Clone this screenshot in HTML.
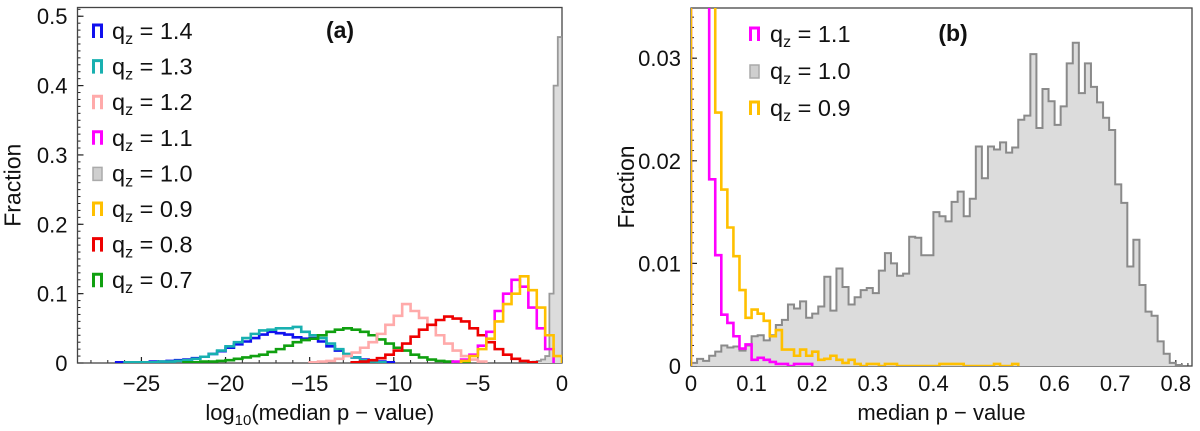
<!DOCTYPE html>
<html><head><meta charset="utf-8"><style>
html,body{margin:0;padding:0;background:#fff;width:1200px;height:431px;overflow:hidden}
svg text{font-family:"Liberation Sans","DejaVu Sans",sans-serif;fill:#111}
</style></head><body>
<svg id="chart" width="1200" height="431" viewBox="0 0 1200 431" xmlns="http://www.w3.org/2000/svg"></svg>
<script>
// ---- Panel (a) data: log10(median p-value) histograms ----
const aBin = 0.5;
const aBlueStart = -26.5;
const aBlue = [0.001,0.001,0.001,0.001,0.002,0.002,0.003,0.004,0.005,0.007,0.009,0.013,0.017,0.022,0.027,0.031,0.036,0.041,0.045,0.043,0.041,0.037,0.035,0.036,0.031,0.024,0.018,0.012,0.008,0.005,0.003,0.002,0.001];
const aCyanStart = -26;
const aCyan = [0.001,0.001,0.001,0.001,0.002,0.002,0.003,0.004,0.006,0.009,0.013,0.018,0.024,0.03,0.036,0.042,0.047,0.048,0.05,0.05,0.052,0.045,0.04,0.036,0.028,0.02,0.013,0.008,0.004,0.002,0.001];
const aGreenStart = -22.5;
const aGreen = [0.001,0.001,0.002,0.002,0.003,0.004,0.006,0.008,0.01,0.012,0.016,0.02,0.025,0.03,0.033,0.035,0.04,0.045,0.048,0.05,0.048,0.045,0.04,0.034,0.028,0.022,0.018,0.012,0.008,0.005,0.003,0.002,0.001,0.001];
const aPinkStart = -15;
const aPink = [0.001,0.002,0.003,0.006,0.01,0.015,0.022,0.03,0.042,0.055,0.068,0.085,0.075,0.065,0.055,0.04,0.028,0.018,0.01,0.005,0.002];
const aRedStart = -12.5;
const aRed = [0.001,0.002,0.004,0.007,0.012,0.018,0.028,0.038,0.048,0.055,0.062,0.067,0.064,0.06,0.05,0.04,0.03,0.02,0.012,0.006,0.003,0.001];
const aMagStart = -6.5;
const aMag = [0.002,0.005,0.012,0.025,0.045,0.075,0.1,0.12,0.11,0.08,0.05,0.02];
const aYelStart = -6;
const aYel = [0.003,0.01,0.02,0.035,0.06,0.085,0.1,0.125,0.105,0.08,0.04,0.01];
const aGrayBin = 0.25;
const aGrayStart = -2;
const aGray = [0.001,0.002,0.003,0.005,0.01,0.1,0.4,0.47];
const aXTicks = [-25,-20,-15,-10,-5,0];
const aXTickLabels = ["\u221225","\u221220","\u221215","\u221210","\u22125","0"];
const aYTicks = [0,0.1,0.2,0.3,0.4,0.5];
const aYTickLabels = ["0","0.1","0.2","0.3","0.4","0.5"];
const aLegend = ["1.4","1.3","1.2","1.1","1.0","0.9","0.8","0.7"];

// ---- Panel (b) data: median p-value histograms ----
const bBin = 0.01;
const bGray = [0.0003,0.0007,0.0005,0.001,0.0014,0.002,0.0018,0.0019,0.0015,0.002,0.0029,0.003,0.0025,0.003,0.004,0.0045,0.006,0.0056,0.0063,0.0047,0.0051,0.0058,0.0087,0.0054,0.0095,0.0077,0.006,0.0067,0.0074,0.0076,0.0071,0.0093,0.011,0.01,0.0088,0.009,0.0126,0.0125,0.0108,0.0108,0.015,0.0146,0.0141,0.016,0.017,0.0146,0.0163,0.0214,0.0183,0.0214,0.0211,0.0218,0.0208,0.0213,0.024,0.0244,0.0304,0.0232,0.027,0.0258,0.0235,0.0253,0.0295,0.0315,0.0266,0.0295,0.0272,0.0257,0.0242,0.023,0.0177,0.0159,0.0097,0.0123,0.0079,0.0053,0.0049,0.0024,0.0012,0.0003,0.0001];
const bMag = [0.06,0.05,0.04,0.0182,0.0108,0.005,0.0042,0.0029,0.0017,0.0021,0.0006,0.0008,0.0006,0.0004,0.0002,0.0002,0,0.0002,0.0002,0.0002];
const bYel = [0.06,0.05,0.045,0.04,0.0247,0.0172,0.0135,0.0107,0.0074,0.0047,0.0055,0.0051,0.0044,0.0029,0.0035,0.0016,0.0016,0.001,0.0016,0.001,0.0014,0.0006,0.0007,0.001,0.0006,0.0003,0.0006,0.0002,0,0.0002,0.0002,0,0.0002,0.0002,0,0,0,0,0,0,0,0.0002,0.0002,0.0002,0.0002,0,0,0,0,0,0.0002,0,0,0.0002];
const bXTicks = [0,0.1,0.2,0.3,0.4,0.5,0.6,0.7,0.8];
const bXTickLabels = ["0","0.1","0.2","0.3","0.4","0.5","0.6","0.7","0.8"];
const bYTicks = [0,0.01,0.02,0.03];
const bYTickLabels = ["0","0.01","0.02","0.03"];
const bLegend = ["1.1","1.0","0.9"];

const NS = "http://www.w3.org/2000/svg";
const svg = document.getElementById('chart');
function mk(tag, attrs, parent){const e=document.createElementNS(NS,tag);for(const k in attrs)e.setAttribute(k,attrs[k]);(parent||svg).appendChild(e);return e;}

const A = {x0:77.5, x1:562, y0:363, y1:7.5, xmin:-28.8, xmax:0, ymin:0, ymax:0.5126};
const B = {x0:691, x1:1192, y0:366, y1:8, xmin:0, xmax:(1192-691)/606, ymin:0, ymax:(366-8)/10260};
function sx(P,v){return P.x0+(v-P.xmin)/(P.xmax-P.xmin)*(P.x1-P.x0);}
function sy(P,v){return P.y0-(v-P.ymin)/(P.ymax-P.ymin)*(P.y0-P.y1);}

function stepPath(P,start,bin,vals){
  let d="M"+sx(P,start).toFixed(2)+","+sy(P,0).toFixed(2);
  for(let i=0;i<vals.length;i++){
    const xa=sx(P,start+i*bin), xb=sx(P,start+(i+1)*bin), y=sy(P,vals[i]);
    d+=" L"+xa.toFixed(2)+","+y.toFixed(2)+" L"+xb.toFixed(2)+","+y.toFixed(2);
  }
  d+=" L"+sx(P,start+vals.length*bin).toFixed(2)+","+sy(P,0).toFixed(2);
  return d;
}

function clip(id,P){
  const defs=mk('defs',{});
  const cp=mk('clipPath',{id:id},defs);
  mk('rect',{x:P.x0,y:P.y1,width:P.x1-P.x0,height:P.y0-P.y1},cp);
}
clip('clipA',A); clip('clipB',B);

function axes(P,name,xt,xtl,yt,ytl,xminor,yminor){
  const g=mk('g',{});
  
  
  for(const v of yminor){const y=sy(P,v);mk('line',{x1:P.x0,x2:P.x0+3,y1:y,y2:y,stroke:'#222','stroke-width':1},g);}
  for(const v of xminor){const x=sx(P,v);mk('line',{x1:x,x2:x,y1:P.y0,y2:P.y0-3,stroke:'#222','stroke-width':1},g);}
  xt.forEach((v,i)=>{const x=sx(P,v);
    mk('line',{x1:x,x2:x,y1:P.y0,y2:P.y0-6,stroke:'#222','stroke-width':1.2},g);
    const t=mk('text',{x:x,y:391,'font-size':22,'text-anchor':'middle'},g);
    
    
    t.textContent=xtl[i];});
  yt.forEach((v,i)=>{const y=sy(P,v);
    mk('line',{x1:P.x0,x2:P.x0+6,y1:y,y2:y,stroke:'#222','stroke-width':1.2},g);
    const t=mk('text',{x:P.x0-10,y:y+8,'font-size':22,'text-anchor':'end'},g);
    
    
    t.textContent=ytl[i];});
  const f=mk('rect',{x:P.x0,y:P.y1,width:P.x1-P.x0,height:P.y0-P.y1,fill:'none',stroke:'#444','stroke-width':1.3},g);
  
  
  const yt2=mk('text',{x:0,y:0,'font-size':23,'text-anchor':'middle',transform:'translate('+(P.x0-57)+','+((P.y0+P.y1)/2)+') rotate(-90)'},g);
  
  
  yt2.textContent='Fraction';
  return g;
}

// ----- Panel A -----
const aYMinor=[];for(let i=0;i<=51;i++)aYMinor.push(i*0.01);
const aXMinor=[];for(let i=-28;i<=0;i++)aXMinor.push(i);
axes(A,'panel-a',aXTicks,aXTickLabels,aYTicks,aYTickLabels,aXMinor,aYMinor);
const ta=mk('text',{x:(A.x0+A.x1)/2,y:420,'font-size':22,'text-anchor':'middle'});


ta.innerHTML='log<tspan font-size="15" dy="5">10</tspan><tspan dy="-5">(median  p \u2212 value)</tspan>';

const gA=mk('g',{'clip-path':'url(#clipA)'});
const grayA=mk('path',{d:stepPath(A,aGrayStart,aGrayBin,aGray),fill:'#dcdcdc',stroke:'#999','stroke-width':1.8},gA);


const aSeries=[[aBlueStart,aBlue,'#1010ee','1.4'],[aCyanStart,aCyan,'#18b0b0','1.3'],[aGreenStart,aGreen,'#10a010','0.7'],[aPinkStart,aPink,'#ffaaaa','1.2'],[aRedStart,aRed,'#ee0000','0.8'],[aMagStart,aMag,'#ff00ff','1.1'],[aYelStart,aYel,'#ffc000','0.9']];
for(const s of aSeries){
  const p=mk('path',{d:stepPath(A,s[0],aBin,s[1]),fill:'none',stroke:s[2],'stroke-width':2.6,'stroke-linejoin':'miter'},gA);
  
  
}
const aLegColors=['#1010ee','#18b0b0','#ffaaaa','#ff00ff','#bbbbbb','#ffc000','#ee0000','#10a010'];
aLegend.forEach((lab,i)=>{
  const y=31+i*35.6;
  const g=mk('g',{});
  
  
  if(lab==='1.0') mk('rect',{x:93,y:y-6,width:9,height:13,fill:'#cfcfcf',stroke:'#aaa','stroke-width':1.5},g);
  else mk('path',{d:'M93.5,'+(y+7)+' L93.5,'+(y-6)+' L101.5,'+(y-6)+' L101.5,'+(y+7),fill:'none',stroke:aLegColors[i],'stroke-width':3},g);
  const t=mk('text',{x:112,y:y+8,'font-size':23.5},g);
  t.innerHTML='q<tspan font-size="16" dy="5">z</tspan><tspan dy="-5"> = '+lab+'</tspan>';
});
const la=mk('text',{x:340,y:38,'font-size':23,'font-weight':'bold','text-anchor':'middle'});


la.textContent='(a)';

// ----- Panel B -----
const bYMinor=[];for(let i=0;i<=34;i++)bYMinor.push(i*0.001);
const bXMinor=[];for(let i=0;i<=82;i++)bXMinor.push(i*0.01);
axes(B,'panel-b',bXTicks,bXTickLabels,bYTicks,bYTickLabels,bXMinor,bYMinor);
const tb=mk('text',{x:(B.x0+B.x1)/2,y:420,'font-size':22,'text-anchor':'middle'});


tb.textContent='median  p \u2212 value';

const gB=mk('g',{'clip-path':'url(#clipB)'});
const grayB=mk('path',{d:stepPath(B,0,bBin,bGray),fill:'#dcdcdc',stroke:'#8a8a8a','stroke-width':2},gB);


const magB=mk('path',{d:stepPath(B,0,bBin,bMag),fill:'none',stroke:'#ff00ff','stroke-width':2.6},gB);


const yelB=mk('path',{d:stepPath(B,0,bBin,bYel),fill:'none',stroke:'#ffc000','stroke-width':2.6},gB);


const bLegColors=['#ff00ff','#bbbbbb','#ffc000'];
bLegend.forEach((lab,i)=>{
  const y=34+i*37;
  const g=mk('g',{});
  
  
  if(lab==='1.0') mk('rect',{x:750,y:y-6,width:9,height:13,fill:'#cfcfcf',stroke:'#aaa','stroke-width':1.5},g);
  else mk('path',{d:'M750.5,'+(y+7)+' L750.5,'+(y-6)+' L758.5,'+(y-6)+' L758.5,'+(y+7),fill:'none',stroke:bLegColors[i],'stroke-width':3},g);
  const t=mk('text',{x:770,y:y+8,'font-size':23.5},g);
  t.innerHTML='q<tspan font-size="16" dy="5">z</tspan><tspan dy="-5"> = '+lab+'</tspan>';
});
const lb=mk('text',{x:953,y:41,'font-size':23,'font-weight':'bold','text-anchor':'middle'});


lb.textContent='(b)';
</script>
</body></html>
